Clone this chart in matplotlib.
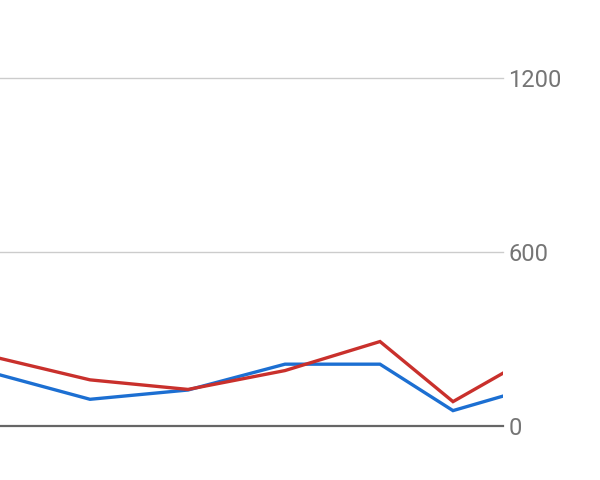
import matplotlib
matplotlib.use("Agg")
import matplotlib.pyplot as plt

x_pos = [0, 90, 188, 285, 380, 453, 503]
blue_vals = [176, 92, 124, 213, 213, 53, 103]
red_vals = [233, 159, 126, 191, 291, 84, 182]
y_ticks = [0, 600, 1200]
y_labels = ["0", "600", "1200"]

fig = plt.figure(figsize=(6, 4.8), dpi=100)
ax = fig.add_axes([0, 54/480, 503/600, (426-77.7)/480])
ax.set_xlim(0, 503)
ax.set_ylim(0, 1200)

for t in y_ticks[1:]:
    ax.axhline(t, color="#cccccc", lw=1.0, zorder=1, clip_on=False)

ax.plot(x_pos, blue_vals, color="#1c6fd2", lw=2.4, zorder=3, solid_joinstyle="miter")
ax.plot(x_pos, red_vals, color="#c9302c", lw=2.4, zorder=4, solid_joinstyle="miter")
ax.axhline(0, color="#666666", lw=1.6, zorder=2, clip_on=False)

for s in ax.spines.values():
    s.set_visible(False)
ax.set_xticks([])
ax.yaxis.tick_right()
ax.set_yticks(y_ticks)
ax.set_yticklabels(y_labels, fontfamily="Roboto", fontsize=17, color="#757575")
ax.tick_params(axis="y", length=0, pad=4)

fig.savefig("out.png", dpi=100)
